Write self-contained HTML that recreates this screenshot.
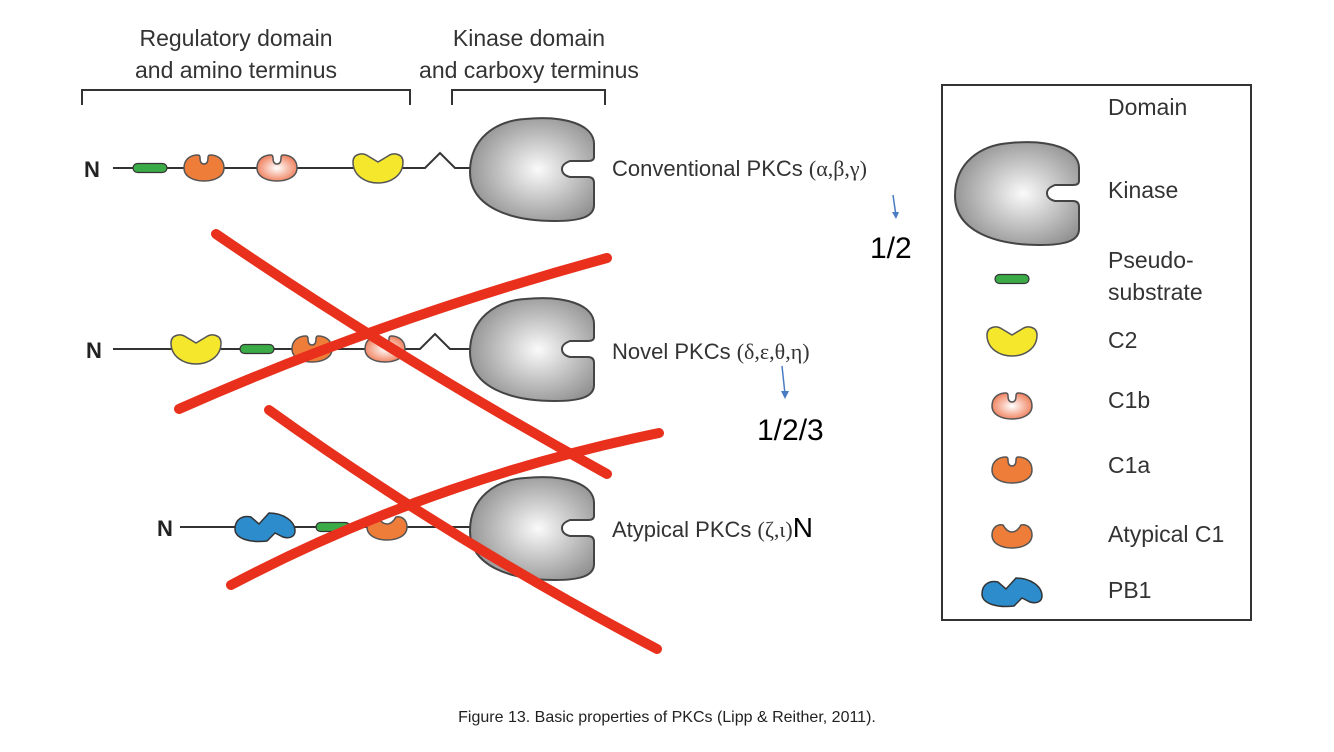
<!DOCTYPE html>
<html><head><meta charset="utf-8"><style>
html,body{margin:0;padding:0;background:#fff;}
svg{display:block;font-family:"Liberation Sans",sans-serif;}
</style></head><body>
<svg width="1334" height="752" viewBox="0 0 1334 752" xmlns="http://www.w3.org/2000/svg">
<defs>
<radialGradient id="gk" cx="0.55" cy="0.5" r="0.6"><stop offset="0" stop-color="#fafafa"/><stop offset="1" stop-color="#8e8e8e"/></radialGradient>
<radialGradient id="gb" cx="0.5" cy="0.5" r="0.6"><stop offset="0" stop-color="#fff"/><stop offset="1" stop-color="#ee7048"/></radialGradient>
<path id="kin" d="M55 2 C95 -2 125 8 124 28 L124 40 Q124 44 118 44 L100 44 Q92 47 92 52 Q92 58 100 60 L118 60 Q124 60 124 66 L124 88 C124 100 110 104 85 104 C40 104 0 90 0 55 C0 22 25 4 55 2 Z" fill="url(#gk)" stroke="#444" stroke-width="2"/>
<path id="c1a" d="M-20 0 C-20 -10 -12 -13 -6 -13 Q-4 -13 -4 -10 Q-4 -4 0 -4 Q4 -4 4 -10 Q4 -13 6 -13 C12 -13 20 -10 20 0 C20 9 10 13 0 13 C-10 13 -20 9 -20 0 Z" fill="#ef7d3a" stroke="#555" stroke-width="1.5"/>
<path id="c1b" d="M-20 0 C-20 -10 -12 -13 -6 -13 Q-4 -13 -4 -10 Q-4 -4 0 -4 Q4 -4 4 -10 Q4 -13 6 -13 C12 -13 20 -10 20 0 C20 9 10 13 0 13 C-10 13 -20 9 -20 0 Z" fill="url(#gb)" stroke="#555" stroke-width="1.5"/>
<path id="atc" d="M-20 0 C-20 -8 -14 -11 -9 -10 Q-5 -3 0 -3 Q5 -3 9 -10 C14 -11 20 -8 20 0 C20 9 10 13 0 13 C-10 13 -20 9 -20 0 Z" fill="#ef7d3a" stroke="#555" stroke-width="1.5"/>
<path id="c2" d="M-25 -6 C-25 -14 -16 -16 -10 -12 L0 -6 L10 -12 C16 -16 25 -14 25 -6 C25 8 12 15 0 15 C-12 15 -25 8 -25 -6 Z" fill="#f5e82c" stroke="#555" stroke-width="1.5"/>
<rect id="ps" x="-17" y="-4.5" width="34" height="9" rx="4.5" fill="#3bab48" stroke="#333" stroke-width="1.2"/>
<path id="pb1" d="M-30 2 C-30 -8 -22 -12 -14 -10 L-6 -3 L4 -14 C18 -14 30 -6 30 4 C30 10 24 12 18 10 L10 6 L2 14 C-14 16 -30 12 -30 2 Z" fill="#2d8ccc" stroke="#333" stroke-width="1.5"/>
</defs>

<g font-size="23" fill="#333" text-anchor="middle">
<text x="236" y="46">Regulatory domain</text>
<text x="236" y="78">and amino terminus</text>
<text x="529" y="46">Kinase domain</text>
<text x="529" y="78">and carboxy terminus</text>
</g>
<path d="M82 105 V90 H410 V105 M452 105 V90 H605 V105" fill="none" stroke="#333" stroke-width="2"/>

<!-- row1 -->
<text x="84" y="177" font-size="22" font-weight="bold" fill="#222">N</text>
<path d="M113 168 H425 L440 153 L455 168 H470" fill="none" stroke="#333" stroke-width="2"/>
<use href="#ps" x="150" y="168"/>
<use href="#c1a" x="204" y="168"/>
<use href="#c1b" x="277" y="168"/>
<use href="#c2" x="378" y="168"/>
<use href="#kin" x="470" y="117"/>
<text x="612" y="176" font-size="22" fill="#333">Conventional PKCs <tspan font-family="Liberation Serif">(α,β,γ)</tspan></text>
<path d="M893 195 L896 216" stroke="#4a7cc4" stroke-width="1.5"/><path d="M892 212 L896 219 L899 212Z" fill="#4a7cc4"/>
<text x="870" y="258" font-size="30" fill="#000">1/2</text>

<!-- row2 -->
<text x="86" y="358" font-size="22" font-weight="bold" fill="#222">N</text>
<path d="M113 349 H420 L435 334 L450 349 H470" fill="none" stroke="#333" stroke-width="2"/>
<use href="#c2" x="196" y="349"/>
<use href="#ps" x="257" y="349"/>
<use href="#c1a" x="312" y="349"/>
<use href="#c1b" x="385" y="349"/>
<use href="#kin" x="470" y="297"/>
<text x="612" y="359" font-size="22" fill="#333">Novel PKCs <tspan font-family="Liberation Serif">(δ,ε,θ,η)</tspan></text>
<path d="M782 366 L785 394" stroke="#4a7cc4" stroke-width="1.5"/><path d="M781 391 L785 399 L789 391Z" fill="#4a7cc4"/>
<text x="757" y="440" font-size="30" fill="#000">1/2/3</text>

<!-- row3 -->
<text x="157" y="536" font-size="22" font-weight="bold" fill="#222">N</text>
<path d="M180 527 H470" fill="none" stroke="#333" stroke-width="2"/>
<use href="#pb1" x="265" y="527"/>
<use href="#ps" x="333" y="527"/>
<use href="#atc" x="387" y="527"/>
<use href="#kin" x="470" y="476"/>
<text x="612" y="537" font-size="22" fill="#333">Atypical PKCs <tspan font-family="Liberation Serif">(ζ,ι)</tspan><tspan font-size="28" fill="#000">N</tspan></text>

<!-- red X -->
<g stroke="#e8301c" stroke-width="10" stroke-linecap="round" fill="none">
<path d="M216 234 Q400 360 607 474"/>
<path d="M179 409 Q380 320 607 258"/>
<path d="M269 410 Q450 540 657 649"/>
<path d="M231 585 Q430 480 659 433"/>
</g>

<!-- legend -->
<rect x="942" y="85" width="309" height="535" fill="none" stroke="#333" stroke-width="2"/>
<g font-size="23" fill="#333">
<text x="1108" y="115">Domain</text>
<text x="1108" y="198">Kinase</text>
<text x="1108" y="268">Pseudo-</text>
<text x="1108" y="300">substrate</text>
<text x="1108" y="348">C2</text>
<text x="1108" y="408">C1b</text>
<text x="1108" y="473">C1a</text>
<text x="1108" y="542">Atypical C1</text>
<text x="1108" y="598">PB1</text>
</g>
<use href="#kin" x="955" y="141"/>
<use href="#ps" x="1012" y="279"/>
<use href="#c2" x="1012" y="341"/>
<use href="#c1b" x="1012" y="406"/>
<use href="#c1a" x="1012" y="470"/>
<use href="#atc" x="1012" y="535"/>
<use href="#pb1" x="1012" y="592"/>

<text x="667" y="722" font-size="16" fill="#222" text-anchor="middle">Figure 13. Basic properties of PKCs (Lipp &amp; Reither, 2011).</text>
</svg>
</body></html>
